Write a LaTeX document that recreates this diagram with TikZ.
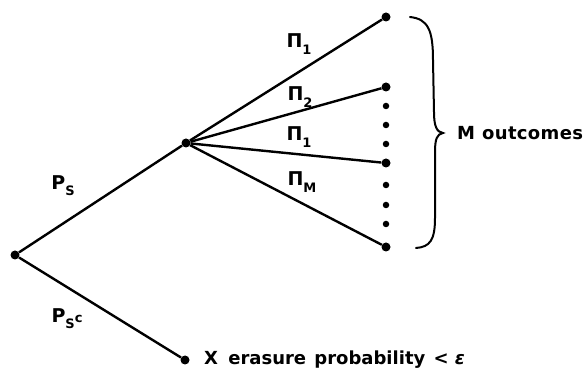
\documentclass[tikz,border=0pt]{standalone}
\usepackage{fontspec}
\setmainfont{DejaVu Sans}
\newcommand{\lowsub}[1]{\raisebox{-0.6ex}{\fontsize{13}{14}\selectfont #1}}
\tikzset{
  treedot/.style={circle,fill=black,inner sep=0pt,minimum size=9pt},
  smalldot/.style={circle,fill=black,inner sep=0pt,minimum size=6.5pt},
  branch/.style={line width=2.4pt,draw=black},
  problabel/.style={font=\fontsize{19}{21}\selectfont\bfseries,inner sep=1pt},
  notelabel/.style={font=\fontsize{18}{20}\selectfont\bfseries,anchor=west,inner sep=0pt}
}
\begin{document}
\begin{tikzpicture}[x=1pt,y=-1pt]
\useasboundingbox (0,0) rectangle (584,371);
% tree nodes
\node[treedot] (root) at (15,255) {};
\node[treedot] (split) at (186,143) {};
\node[treedot] (erase) at (185,360) {};
\node[treedot] (outA) at (386,17) {};
\node[treedot] (outB) at (386,87) {};
\node[treedot] (outC) at (386,163) {};
\node[treedot] (outD) at (386,247) {};
% vertical dots between outcomes
\foreach \yy in {106,125,144,185,205,224}
  \node[smalldot] at (386,\yy) {};
% branches
\draw[branch] (root) -- (split);
\draw[branch] (root) -- (erase);
\draw[branch] (split) -- (outA);
\draw[branch] (split) -- (outB);
\draw[branch] (split) -- (outC);
\draw[branch] (split) -- (outD);
% labels
\node[problabel] (ps) at (63,186) {P\lowsub{S}};
\node[problabel] (psc) at (67,319) {P\lowsub{S\raisebox{0.9ex}{c}}};
\node[problabel] (piA) at (299,44) {Π\lowsub{1}};
\node[problabel] (piB) at (300,97) {Π\lowsub{2}};
\node[problabel] (piC) at (299,137) {Π\lowsub{1}};
\node[problabel] (piD) at (302,182) {Π\lowsub{M}};
% brace
\draw[line width=2pt,line cap=round]
  (410,17) .. controls (428,19) and (433,30) .. (433,60) -- (434,112)
  .. controls (434,127) and (437,132) .. (443,133)
  .. controls (437,134) and (435,139) .. (435,152) -- (435,218)
  .. controls (435,240) and (430,247) .. (416,248);
\node[notelabel] (outcomes) at (457,133) {M\hspace{7pt}{\addfontfeatures{LetterSpace=2}outcomes}};
\node[notelabel] (erasure) at (204,360) {X\hspace{4pt} erasure\hspace{2pt} probability\hspace{2pt} < \textit{ε}};
\end{tikzpicture}
\end{document}
